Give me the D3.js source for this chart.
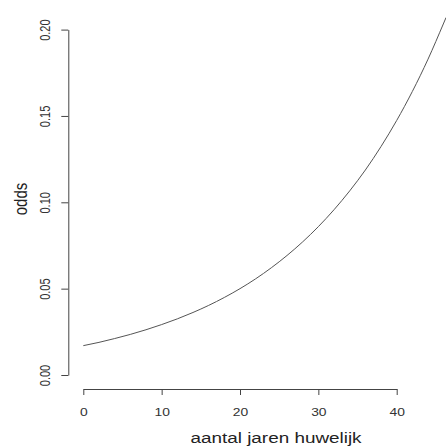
<!DOCTYPE html>
<html>
<head>
<meta charset="utf-8">
<script src="https://cdn.jsdelivr.net/npm/d3@7"></script>
<style>
  body { margin: 0; background: #fff; }
  svg { display: block; font-family: "Liberation Sans", Arial, sans-serif; }
</style>
</head>
<body>
<div id="chart"></div>
<script>
// Waarden
const jaren = [0, 2, 4, 6, 8, 10, 12, 14, 16, 18, 20, 22, 24, 26, 28, 30, 32, 34, 36, 38, 40, 42, 44, 46, 46.3];
const odds = [0.0170, 0.0189, 0.0211, 0.0235, 0.0262, 0.0292, 0.0325, 0.0362, 0.0403, 0.0449, 0.0500,
  0.0557, 0.0621, 0.0692, 0.0771, 0.0859, 0.0957, 0.1066, 0.1187, 0.1323, 0.1474, 0.1642, 0.1829, 0.2038, 0.2070];
const xTicks = [0, 10, 20, 30, 40];
const yTicks = [0.00, 0.05, 0.10, 0.15, 0.20];

const W = 446, H = 446;
// het origineel is horizontaal wat uitgerekt
const stretch = 1.26;

const svg = d3.select('#chart').append('svg')
  .attr('width', W)
  .attr('height', H);

const x = d3.scaleLinear().domain([0, 40]).range([83.3, 396.7]);
const y = d3.scaleLinear().domain([0, 0.2]).range([375, 29.6]);

const axisColor = '#444';
const textColor = '#333';

// Curve
const data = jaren.map((j, i) => ({ j: j, o: odds[i] }));
svg.append('path')
  .datum(data)
  .attr('fill', 'none')
  .attr('stroke', '#555')
  .attr('stroke-width', 1)
  .attr('d', d3.line().x(d => x(d.j)).y(d => y(d.o)).curve(d3.curveMonotoneX));

// x-as (los van de plot, R-stijl)
const xAxisG = svg.append('g')
  .attr('transform', 'translate(0,389)')
  .call(d3.axisBottom(x).tickValues(xTicks).tickFormat(d3.format('d')).tickSize(6).tickSizeOuter(0));
xAxisG.select('.domain').attr('stroke', axisColor);
xAxisG.selectAll('.tick line').attr('stroke', axisColor);
xAxisG.selectAll('.tick text')
  .attr('fill', textColor)
  .attr('dy', null)
  .attr('y', 27)
  .attr('transform', `scale(${stretch},1)`)
  .style('font-size', '11px');

// y-as met gedraaide labels
const yAxisG = svg.append('g')
  .attr('transform', 'translate(68.3,0)')
  .call(d3.axisLeft(y).tickValues(yTicks).tickFormat(d3.format('.2f')).tickSize(7).tickSizeOuter(0));
yAxisG.select('.domain').attr('stroke', axisColor);
yAxisG.selectAll('.tick line').attr('stroke', axisColor);
yAxisG.selectAll('.tick text')
  .attr('fill', textColor)
  .attr('x', null)
  .attr('dy', null)
  .attr('text-anchor', 'middle')
  .attr('transform', `translate(-18.3,0) scale(${stretch},1) rotate(-90)`)
  .attr('y', 0)
  .style('font-size', '11px');

// Astitels
svg.append('text')
  .attr('transform', `translate(276,443) scale(${stretch},1)`)
  .attr('text-anchor', 'middle')
  .attr('fill', '#222')
  .style('font-size', '15px')
  .text('aantal jaren huwelijk');

svg.append('text')
  .attr('transform', `translate(27,199) scale(${stretch},1) rotate(-90)`)
  .attr('text-anchor', 'middle')
  .attr('fill', '#222')
  .style('font-size', '15px')
  .text('odds');
</script>
</body>
</html>
